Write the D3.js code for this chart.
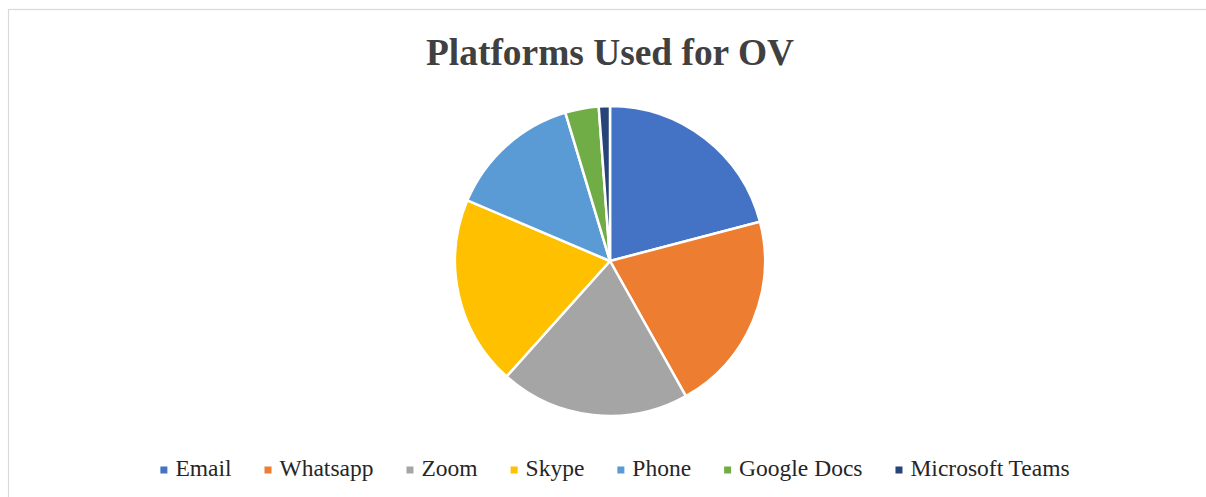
<!DOCTYPE html>
<html>
<head>
<meta charset="utf-8">
<script src="https://cdn.jsdelivr.net/npm/d3@7"></script>
<style>
  html, body { margin: 0; padding: 0; background: #fff; }
  svg { display: block; }
  text { font-family: "Liberation Serif", "Times New Roman", serif; }
</style>
</head>
<body>
<svg id="chart" width="1206" height="497"></svg>
<script>
const title = "Platforms Used for OV";
const categories = ["Email", "Whatsapp", "Zoom", "Skype", "Phone", "Google Docs", "Microsoft Teams"];
const values = [18, 18, 17, 17, 12, 3, 1];
const colors = ["#4472C4", "#ED7D31", "#A5A5A5", "#FFC000", "#5B9BD5", "#70AD47", "#264478"];

const svg = d3.select("#chart");

// chart frame (extends beyond the visible area on the right and bottom)
svg.append("rect")
  .attr("x", 8.5).attr("y", 9.5)
  .attr("width", 1220).attr("height", 520)
  .attr("fill", "#fff")
  .attr("stroke", "#D9D9D9").attr("stroke-width", 1.2);

// title
svg.append("text")
  .attr("x", 610).attr("y", 65)
  .attr("text-anchor", "middle")
  .attr("font-size", 37.4)
  .attr("font-weight", "bold")
  .attr("fill", "#404040")
  .text(title);

// pie
const cx = 610, cy = 261, r = 155;
const data = categories.map((c, i) => ({ name: c, value: values[i] }));
const color = d3.scaleOrdinal().domain(categories).range(colors);
const pie = d3.pie().value(d => d.value).sort(null);
const arc = d3.arc().innerRadius(0).outerRadius(r);

svg.append("g")
  .attr("transform", `translate(${cx},${cy})`)
  .selectAll("path")
  .data(pie(data))
  .join("path")
  .attr("d", arc)
  .attr("fill", d => color(d.data.name))
  .attr("stroke", "#fff")
  .attr("stroke-width", 2.5)
  .attr("stroke-linejoin", "round");

// legend
const legend = svg.append("g");
const items = legend.selectAll("g").data(categories).join("g");
items.append("rect")
  .attr("width", 7).attr("height", 7)
  .attr("y", -7.5)
  .attr("fill", d => color(d));
items.append("text")
  .attr("x", 15).attr("y", 1.5)
  .attr("font-size", 23.5)
  .attr("fill", "#262626")
  .text(d => d);

const gap = 33;
const widths = [];
items.each(function() {
  const t = d3.select(this).select("text").node().getComputedTextLength();
  widths.push(15 + t);
});
const total = d3.sum(widths) + gap * (widths.length - 1);
let start = 615 - total / 2;
items.attr("transform", (d, i) => {
  const tx = start;
  start += widths[i] + gap;
  return `translate(${tx},${474})`;
});
</script>
</body>
</html>
